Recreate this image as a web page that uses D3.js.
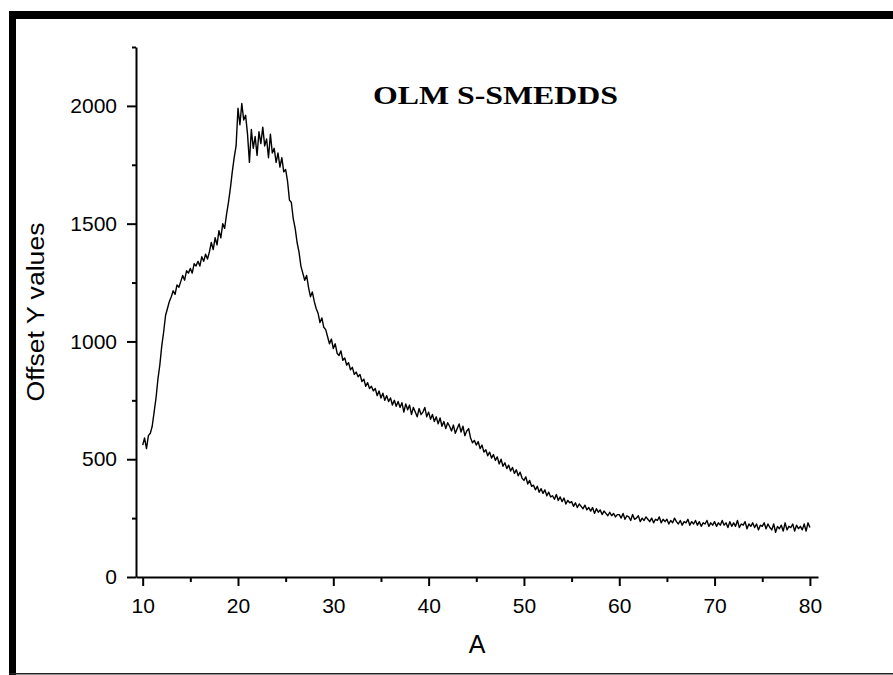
<!DOCTYPE html>
<html>
<head>
<meta charset="utf-8">
<script src="https://cdn.jsdelivr.net/npm/d3@7"></script>
<style>
  body { margin: 0; background: #fff; }
  svg { display: block; }
</style>
</head>
<body>
<div id="xrd-chart"></div>
<script>
// chart text
var title = "OLM S-SMEDDS";
var xLabel = "A";
var yLabel = "Offset Y values";

// axis ticks
var xMajorTicks = [10, 20, 30, 40, 50, 60, 70, 80];
var xMinorTicks = [15, 25, 35, 45, 55, 65, 75];
var yMajorTicks = [0, 500, 1000, 1500, 2000];
var yMinorTicks = [250, 750, 1250, 1750, 2250];

// scan: 10..80 deg, one reading every 0.2
var angleStart = 10, angleStep = 0.2;
var intensity = [
  560, 590, 545, 600, 610,   640, 700, 760, 840, 900,
  980, 1040, 1110, 1140, 1170,   1190, 1215, 1200, 1240, 1230,
  1255, 1280, 1260, 1300, 1290,   1310, 1290, 1330, 1320, 1340,
  1320, 1360, 1340, 1370, 1350,   1380, 1420, 1390, 1440, 1410,
  1470, 1440, 1500, 1480, 1540,   1590, 1650, 1720, 1780, 1830,
  1990, 1920, 2010, 1940, 1960,   1880, 1760, 1900, 1820, 1870,
  1790, 1890, 1840, 1910, 1830,   1860, 1780, 1880, 1800, 1820,
  1760, 1800, 1740, 1780, 1720,   1730, 1680, 1600, 1590, 1520,
  1480, 1420, 1380, 1320, 1290,   1260, 1280, 1230, 1190, 1210,
  1170, 1140, 1120, 1080, 1100,   1060, 1050, 1020, 990, 1010,
  970, 990, 950, 940, 960,   920, 930, 900, 910, 880,
  890, 860, 870, 850, 860,   830, 840, 810, 825, 800,
  810, 790, 800, 770, 790,   760, 780, 750, 770, 745,
  760, 730, 750, 725, 745,   720, 740, 700, 735, 710,
  730, 690, 720, 700, 680,   715, 690, 700, 720, 680,
  700, 670, 690, 660, 680,   650, 675, 640, 660, 630,
  655, 640, 620, 645, 610,   630, 650, 615, 640, 600,
  620, 630, 590, 570, 580,   560, 575, 545, 560, 530,
  540, 515, 530, 505, 520,   495, 510, 480, 500, 470,
  485, 460, 475, 450, 465,   440, 455, 430, 445, 420,
  410, 425, 395, 410, 385,   390, 370, 385, 360, 375,
  355, 370, 345, 360, 340,   345, 330, 350, 325, 340,
  320, 335, 310, 325, 315,   320, 300, 315, 295, 310,
  300, 290, 305, 285, 295,   280, 295, 270, 290, 275,
  285, 265, 280, 270, 260,   275, 260, 270, 255, 265,
  265, 250, 270, 245, 260,   255, 240, 265, 245, 250,
  260, 235, 250, 240, 255,   245, 235, 250, 230, 245,
  240, 255, 230, 245, 235,   245, 225, 240, 230, 250,
  235, 225, 240, 220, 235,   230, 245, 220, 235, 225,
  240, 220, 235, 215, 230,   225, 240, 215, 230, 220,
  235, 215, 230, 220, 240,   220, 230, 210, 235, 215,
  230, 215, 240, 210, 225,   220, 235, 205, 225, 215,
  230, 210, 225, 200, 220,   215, 230, 205, 225, 210,
  200, 225, 190, 215, 205,   220, 195, 230, 200, 215,
  210, 225, 195, 220, 205,   215, 200, 225, 195, 230,
  210
];

var data = intensity.map(function(v, i) {
  return { angle: angleStart + i * angleStep, value: v };
});

var W = 893, H = 675;

var svg = d3.select("#xrd-chart").append("svg")
  .attr("width", W)
  .attr("height", H);

// black frame round the figure (top + left heavy, thin bottom)
svg.append("rect").attr("x", 9).attr("y", 11).attr("width", W - 9).attr("height", 8).attr("fill", "#000");
svg.append("rect").attr("x", 9).attr("y", 11).attr("width", 7).attr("height", H - 11).attr("fill", "#000");
svg.append("rect").attr("x", 9).attr("y", H - 2).attr("width", W - 9).attr("height", 1.5).attr("fill", "#222");

// set the ranges
var x = d3.scaleLinear().domain([9.3, 80.85]).range([136, 818]);
var y = d3.scaleLinear().domain([0, 2250]).range([577, 47]);

var font = "'Liberation Sans', Arial, sans-serif";

// minor ticks first, majors on top
svg.append("g")
  .attr("transform", "translate(0," + y(0) + ")")
  .call(d3.axisBottom(x).tickValues(xMinorTicks).tickSize(5).tickSizeOuter(0).tickFormat(""))
  .call(function(g) { g.select(".domain").remove(); });
svg.append("g")
  .attr("transform", "translate(" + x.range()[0] + ",0)")
  .call(d3.axisLeft(y).tickValues(yMinorTicks).tickSize(4).tickSizeOuter(0).tickFormat(""))
  .call(function(g) { g.select(".domain").remove(); });

// X axis
svg.append("g")
  .attr("transform", "translate(0," + y(0) + ")")
  .call(d3.axisBottom(x).tickValues(xMajorTicks).tickFormat(d3.format("d"))
    .tickSize(9).tickSizeOuter(0).tickPadding(12));

// Y axis
svg.append("g")
  .attr("transform", "translate(" + x.range()[0] + ",0)")
  .call(d3.axisLeft(y).tickValues(yMajorTicks).tickFormat(d3.format("d"))
    .tickSize(9).tickSizeOuter(0).tickPadding(10));

svg.selectAll(".tick line, .domain")
  .attr("stroke", "#000")
  .attr("stroke-width", 2);
svg.selectAll(".tick text")
  .attr("fill", "#000")
  .style("font-family", font)
  .style("font-size", "21px");

// the scan line
var valueline = d3.line()
  .x(function(d) { return x(d.angle); })
  .y(function(d) { return y(d.value); });

svg.append("path")
  .datum(data)
  .attr("fill", "none")
  .attr("stroke", "#000")
  .attr("stroke-width", 1.4)
  .attr("stroke-linejoin", "round")
  .attr("d", valueline);

// title
svg.append("text")
  .attr("x", 373)
  .attr("y", 104)
  .attr("textLength", 245)
  .attr("lengthAdjust", "spacingAndGlyphs")
  .style("font-family", "'Liberation Serif', 'Times New Roman', serif")
  .style("font-weight", "bold")
  .style("font-size", "26px")
  .text(title);

// axis labels
svg.append("text")
  .attr("x", (x.range()[0] + x.range()[1]) / 2)
  .attr("y", 653)
  .attr("text-anchor", "middle")
  .style("font-family", font)
  .style("font-size", "25px")
  .text(xLabel);

svg.append("text")
  .attr("transform", "translate(44,312) rotate(-90)")
  .attr("text-anchor", "middle")
  .attr("textLength", 179)
  .attr("lengthAdjust", "spacingAndGlyphs")
  .style("font-family", font)
  .style("font-size", "23px")
  .text(yLabel);
</script>
</body>
</html>
